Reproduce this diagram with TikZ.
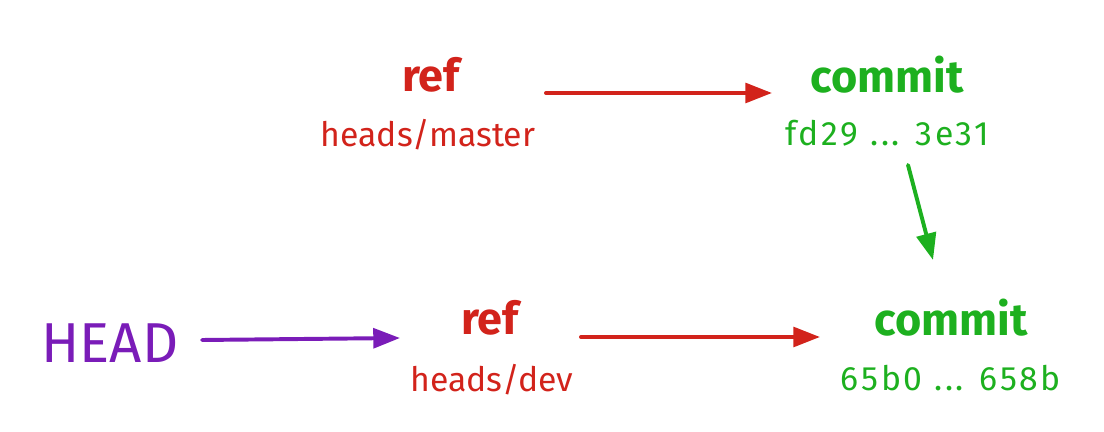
\documentclass[tikz,border=0pt]{standalone}
\usepackage{fontspec}
\setmainfont{Fira Sans}
\usetikzlibrary{arrows.meta}
\definecolor{cred}{HTML}{D2231B}
\definecolor{cgreen}{HTML}{1DB01F}
\definecolor{cpurple}{HTML}{7A1CB8}
\begin{document}
\begin{tikzpicture}[x=0.025cm,y=-0.025cm,
  title/.style={font=\fontsize{32}{38}\selectfont\bfseries, inner sep=0pt},
  subt/.style={font=\fontsize{24}{29}\selectfont, inner sep=0pt},
  hasht/.style={font=\fontsize{24}{29}\selectfont\addfontfeatures{LetterSpace=8}, inner sep=0pt},
  headt/.style={font=\fontsize{40}{48}\selectfont, inner sep=0pt},
  arr/.style={line width=2.8pt, line cap=round, -{Triangle[length=19pt,width=14pt]}}]
\useasboundingbox (0,0) rectangle (1104,432);
% top row
\node[title, text=cred] (ref1t) at (431,75) {ref};
\node[subt, text=cred] (ref1s) at (428,135) {heads/master};
\node[title, text=cgreen] (com1t) at (887,75) {commit};
\node[hasht, text=cgreen] (com1s) at (887,133) {fd29 ... 3e31};
% bottom row
\node[headt, text=cpurple] (head) at (110,343) {HEAD};
\node[title, text=cred] (ref2t) at (490,318) {ref};
\node[subt, text=cred] (ref2s) at (492,380) {heads/dev};
\node[title, text=cgreen] (com2t) at (951,318) {commit};
\node[hasht, text=cgreen] (com2s) at (951,378) {65b0 ... 658b};
% connectors
\draw[arr, cred] ([shift={(115,18)}]ref1t.center) -- ([shift={(-115,18)}]com1t.center);
\draw[arr, cred] ([shift={(91,19)}]ref2t.center) -- ([shift={(-131,19)}]com2t.center);
\draw[arr, cpurple] ([shift={(92,-3)}]head.center) -- ([shift={(-90,20)}]ref2t.center);
\draw[arr, cgreen] ([shift={(21,32)}]com1s.center) -- ([shift={(-18,-58)}]com2t.center);
\end{tikzpicture}
\end{document}
